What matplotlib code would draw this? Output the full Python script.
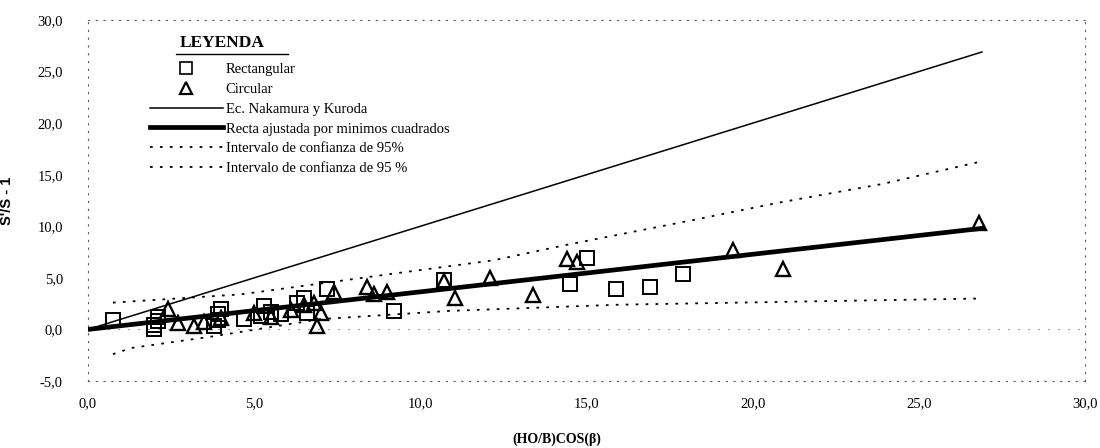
import matplotlib
matplotlib.use("Agg")
import matplotlib.pyplot as plt
from matplotlib.lines import Line2D

# ---------------- data ----------------
rect_x = [0.75, 2.0, 2.0, 2.1, 2.1, 3.8, 3.9, 3.9, 4.0, 4.7, 5.2, 5.3, 5.5, 5.8,
          6.3, 6.5, 6.6, 7.2, 9.2, 10.7, 14.5, 15.0, 15.9, 16.9, 17.9]
rect_y = [0.9, 0.0, 0.4, 0.8, 1.2, 0.3, 0.9, 1.5, 2.0, 1.0, 1.3, 2.3, 1.7, 1.5,
          2.6, 3.0, 1.6, 3.9, 1.8, 4.8, 4.4, 6.9, 3.9, 4.1, 5.4]

circ_x = [2.4, 2.7, 3.2, 3.5, 4.0, 5.0, 5.5, 6.1, 6.5, 6.8, 6.9, 7.0, 7.4, 8.4,
          8.6, 9.0, 10.7, 11.05, 12.1, 13.4, 14.4, 14.7, 19.4, 20.9, 26.8]
circ_y = [2.0, 0.6, 0.3, 0.7, 1.1, 1.6, 1.2, 1.9, 2.4, 2.6, 0.3, 1.6, 3.6, 4.1,
          3.4, 3.6, 4.7, 3.0, 5.0, 3.3, 6.8, 6.5, 7.7, 5.9, 10.3]

nk_x = [0.0, 26.9]
nk_y = [0.0, 26.9]

fit_x = [0.0, 26.9]
fit_y = [0.0, 9.8]

up_x = [0.75, 4.6, 9.4, 12.2, 14.4, 18.2, 20.8, 23.9, 26.9]
up_y = [2.6, 3.4, 5.5, 6.7, 8.2, 10.6, 12.3, 14.1, 16.3]

lo_x = [0.75, 1.3, 3.7, 7.0, 10.9, 16.0, 21.4, 26.9]
lo_y = [-2.4, -1.8, -0.7, 1.0, 1.8, 2.4, 2.7, 3.0]

x_ticks = [0, 5, 10, 15, 20, 25, 30]
y_ticks = [-5, 0, 5, 10, 15, 20, 25, 30]
x_tick_labels = ["0,0", "5,0", "10,0", "15,0", "20,0", "25,0", "30,0"]
y_tick_labels = ["-5,0", "0,0", "5,0", "10,0", "15,0", "20,0", "25,0", "30,0"]

labels = ["Rectangular", "Circular", "Ec. Nakamura y Kuroda",
          "Recta ajustada por minimos cuadrados",
          "Intervalo de confianza de 95%", "Intervalo de confianza de 95 %"]

# ---------------- figure ----------------
W, H = 1100, 448
fig = plt.figure(figsize=(W / 100, H / 100), dpi=100)
L, R, T, B = 88, 1085, 20, 381
ax = fig.add_axes([L / W, 1 - B / H, (R - L) / W, (B - T) / H])

serif = "Liberation Serif"
dots = (0, (1.5, 4))

h_nk, = ax.plot(nk_x, nk_y, color="black", lw=1.1, zorder=3)
h_fit, = ax.plot(fit_x, fit_y, color="black", lw=3.4, zorder=3)
h_up, = ax.plot(up_x, up_y, color="black", lw=1.3, ls=dots, zorder=3)
h_lo, = ax.plot(lo_x, lo_y, color="black", lw=1.3, ls=dots, zorder=3)
h_rect, = ax.plot(rect_x, rect_y, ls="none", marker="s", ms=10, mfc="none",
                  mec="black", mew=1.4, zorder=4)
h_circ, = ax.plot(circ_x, circ_y, ls="none", marker="^", ms=10, mfc="none",
                  mec="black", mew=1.7, zorder=4)

ax.set_xlim(0, 30)
ax.set_ylim(-5, 30)
ax.set_xticks(x_ticks)
ax.set_xticklabels(x_tick_labels, fontfamily=serif, fontsize=10.5)
ax.set_yticks(y_ticks)
ax.set_yticklabels(y_tick_labels, fontfamily=serif, fontsize=10.5)
ax.tick_params(axis="both", length=0)
ax.tick_params(axis="y", pad=18)
ax.tick_params(axis="x", pad=12)

for s in ax.spines.values():
    s.set_linestyle((0, (1, 6)))
    s.set_linewidth(0.8)
    s.set_color("0.35")
ax.axhline(0, color="0.35", lw=0.8, ls=(0, (1, 8)), zorder=1)

ax.set_ylabel("S'/S - 1", fontfamily="Liberation Sans", fontweight="bold",
              fontsize=10.5)
ax.yaxis.set_label_coords((14 - L) / (R - L), 0.5)
ax.set_xlabel("(HO/B)COS(β)", fontfamily=serif, fontweight="bold", fontsize=10)
ax.xaxis.set_label_coords((557 - L) / (R - L), (B - 433) / (B - T))

# legend
handles = [
    Line2D([], [], ls="none", marker="s", ms=8, mfc="none", mec="black", mew=1.2),
    Line2D([], [], ls="none", marker="^", ms=8, mfc="none", mec="black", mew=1.6),
    Line2D([], [], color="black", lw=1.1),
    Line2D([], [], color="black", lw=3.4),
    Line2D([], [], color="black", lw=1.3, ls=dots),
    Line2D([], [], color="black", lw=1.3, ls=dots),
]
ax_pt = lambda px, py: ((px - L) / (R - L), (B - py) / (B - T))
leg = ax.legend(handles, labels, loc="upper left", bbox_to_anchor=ax_pt(150, 63),
                frameon=False, borderaxespad=0, borderpad=0, handlelength=5.0,
                handletextpad=0.2, labelspacing=0.45,
                prop={"family": serif, "size": 10.5})

tx, ty = ax_pt(180, 43)
title = ax.text(tx, ty, "LEYENDA", transform=ax.transAxes, fontfamily=serif,
                fontweight="bold", fontsize=12.5, ha="left", va="center")
ux0, uy = ax_pt(176, 54)
ux1, _ = ax_pt(288, 54)
ax.plot([ux0, ux1], [uy, uy], transform=ax.transAxes, color="black", lw=1.0,
        clip_on=False)

fig.savefig("out.png", dpi=100)
